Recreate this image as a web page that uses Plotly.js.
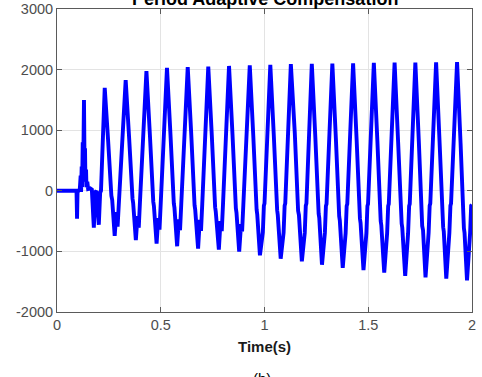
<!DOCTYPE html>
<html>
<head>
<meta charset="utf-8">
<script src="https://cdn.plot.ly/plotly-3.0.1.min.js"></script>
<style>html,body{margin:0;padding:0;background:#fff;}#chart{width:482px;height:377px;}</style>
</head>
<body>
<div id="chart"></div>
<script>
// Time (s) and compensation values
const timeS = [
  0, 0.094, 0.0966, 0.099, 0.104, 0.110, 0.114, 0.116, 0.119, 0.121, 0.124, 0.126,
  0.130, 0.133, 0.135, 0.137, 0.140, 0.142, 0.146, 0.150, 0.160, 0.168, 0.1775, 0.185,
  0.190, 0.2015, 0.208, 0.212,
  0.230, 0.246, 0.262, 0.266, 0.278, 0.286, 0.292, 0.299,
  0.331, 0.348, 0.364, 0.367, 0.380, 0.388, 0.394, 0.400,
  0.431, 0.448, 0.464, 0.467, 0.480, 0.488, 0.494, 0.500,
  0.530, 0.547, 0.563, 0.566, 0.579, 0.587, 0.593, 0.599,
  0.630, 0.647, 0.663, 0.666, 0.680, 0.688, 0.694, 0.700,
  0.729, 0.746, 0.762, 0.765, 0.780, 0.788, 0.794, 0.800,
  0.829, 0.846, 0.862, 0.865, 0.878, 0.887, 0.892, 0.898,
  0.929, 0.946, 0.962, 0.965, 0.978, 0.992, 0.997, 1.000,
  1.028, 1.045, 1.061, 1.064, 1.078, 1.092, 1.097, 1.100,
  1.127, 1.146, 1.162, 1.166, 1.180, 1.194, 1.199, 1.202,
  1.228, 1.245, 1.261, 1.264, 1.277, 1.291, 1.296, 1.299,
  1.327, 1.344, 1.360, 1.363, 1.377, 1.391, 1.396, 1.399,
  1.427, 1.444, 1.460, 1.463, 1.477, 1.491, 1.496, 1.499,
  1.527, 1.544, 1.560, 1.563, 1.577, 1.591, 1.596, 1.599,
  1.627, 1.644, 1.661, 1.664, 1.678, 1.692, 1.697, 1.700,
  1.727, 1.744, 1.760, 1.764, 1.776, 1.791, 1.796, 1.799,
  1.827, 1.844, 1.861, 1.864, 1.876, 1.891, 1.896, 1.899,
  1.928, 1.945, 1.961, 1.964, 1.976, 1.991, 1.996, 2.000
];
const compensation = [
  0, 0, -460, -20, 0, 30, 250, -20, 400, 60, 800, 250,
  1500, 350, 700, 150, 350, 60, 150, 30, 40, 20, -610, -20,
  0, -560, -30, 0,
  1700, 850, -80, -150, -745, -350, -590, -150,
  1825, 850, -130, -200, -815, -420, -610, -170,
  1975, 900, -180, -250, -870, -450, -640, -200,
  2030, 920, -210, -280, -915, -470, -650, -210,
  2040, 930, -240, -310, -955, -480, -660, -220,
  2050, 920, -270, -340, -970, -500, -665, -225,
  2060, 910, -290, -360, -1005, -550, -670, -230,
  2070, 900, -310, -390, -1065, -685, -245, -210,
  2080, 900, -320, -400, -1120, -690, -245, -210,
  2090, 950, -330, -400, -1165, -695, -245, -210,
  2095, 880, -380, -450, -1220, -695, -250, -215,
  2100, 860, -420, -490, -1270, -700, -250, -215,
  2105, 840, -460, -530, -1310, -700, -250, -215,
  2110, 820, -500, -570, -1350, -700, -250, -215,
  2115, 800, -540, -610, -1405, -700, -250, -215,
  2115, 790, -580, -650, -1430, -690, -245, -210,
  2120, 780, -600, -670, -1450, -690, -245, -210,
  2125, 780, -620, -690, -1480, -690, -245, -230
];
const xTicks = [0, 0.5, 1, 1.5, 2];
const xTickLabels = ['0', '0.5', '1', '1.5', '2'];
const yTicks = [-2000, -1000, 0, 1000, 2000, 3000];
const yTickLabels = ['-2000', '-1000', '0', '1000', '2000', '3000'];
const titleText = 'Period Adaptive Compensation';
const xLabel = 'Time(s)';
const subLabel = '(b)';

const FONT = 'Liberation Sans, Arial, Helvetica, sans-serif';
const axisCommon = {
  showline: true, linecolor: '#5a5a5a', linewidth: 1, mirror: 'ticks',
  ticks: 'inside', ticklen: 5, tickcolor: '#5a5a5a', tickwidth: 1,
  showgrid: true, gridcolor: '#e3e3e3', gridwidth: 1, zeroline: false,
  tickfont: {family: FONT, size: 14.5, color: '#4d4d4d'},
  tickmode: 'array', fixedrange: true
};

const trace = {
  x: timeS, y: compensation, type: 'scatter', mode: 'lines',
  line: {color: '#0000ff', width: 3.9, simplify: false},
  hoverinfo: 'skip'
};

const layout = {
  width: 482, height: 377,
  margin: {l: 57, r: 10, t: 9, b: 65},
  paper_bgcolor: '#ffffff', plot_bgcolor: '#ffffff',
  showlegend: false,
  xaxis: Object.assign({}, axisCommon, {
    range: [0, 2], tickvals: xTicks, ticktext: xTickLabels
  }),
  yaxis: Object.assign({}, axisCommon, {
    range: [-2000, 3000], tickvals: yTicks, ticktext: yTickLabels
  }),
  annotations: [
    {text: titleText, xref: 'paper', yref: 'paper', x: 0.5, y: 1.033,
     xanchor: 'center', yanchor: 'middle', showarrow: false,
     font: {family: FONT, size: 18, color: '#000000', weight: 'bold'}},
    {text: xLabel, xref: 'paper', yref: 'paper', x: 0.5, y: -0.1155,
     xanchor: 'center', yanchor: 'middle', showarrow: false,
     font: {family: FONT, size: 15, color: '#1a1a1a', weight: 'bold'}},
    {text: subLabel, xref: 'paper', yref: 'paper', x: 0.495, y: -0.218,
     xanchor: 'center', yanchor: 'middle', showarrow: false,
     font: {family: FONT, size: 15, color: '#000000'}}
  ]
};

Plotly.newPlot('chart', [trace], layout, {displayModeBar: false, staticPlot: true});
</script>
</body>
</html>
